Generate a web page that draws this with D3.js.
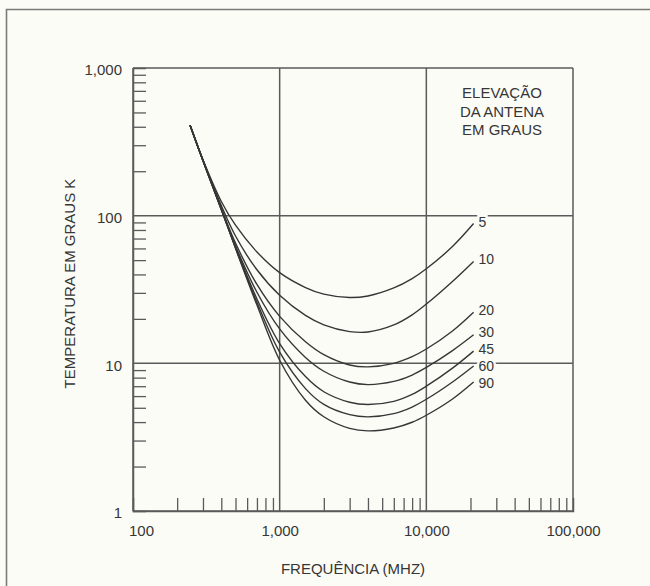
<!DOCTYPE html>
<html><head><meta charset="utf-8">
<script src="https://cdn.jsdelivr.net/npm/d3@7"></script>
<style>
html,body{margin:0;padding:0;background:#fcfcf6;}
svg{display:block;font-family:"Liberation Sans",Arial,Helvetica,sans-serif;}
</style></head><body>
<svg id="c" width="650" height="586"></svg>
<script>
// ---- data ----
const frequencies = [245, 300, 400, 500, 700, 1000, 1500, 2000, 3000, 4000, 6000, 8000, 10000, 15000, 21000];
const elevations = ["5", "10", "20", "30", "45", "60", "90"];
const temp5  = [410, 239, 124.8, 86.2, 56.8, 41.1, 32.6, 29.4, 27.9, 28.6, 32.4, 37.5, 43.7, 61.5, 88.4];
const temp10 = [410, 237.5, 117.2, 72.8, 43.0, 28.9, 21.1, 18.2, 16.4, 16.3, 18.2, 21.3, 25.2, 35.7, 49.0];
const temp20 = [410, 236.1, 112.2, 65.3, 34.2, 20.8, 14.0, 11.45, 9.75, 9.47, 10.0, 11.1, 12.5, 16.5, 22.2];
const temp30 = [410, 235.4, 110.7, 62.4, 30.3, 17.1, 10.96, 8.84, 7.47, 7.18, 7.54, 8.33, 9.38, 12.15, 15.6];
const temp45 = [410, 236.1, 111.0, 61.5, 27.3, 13.6, 8.13, 6.42, 5.45, 5.26, 5.53, 6.16, 7.00, 9.24, 12.1];
const temp60 = [410, 235.7, 110.3, 60.4, 25.9, 11.9, 6.74, 5.27, 4.49, 4.34, 4.56, 5.06, 5.71, 7.45, 9.60];
const temp90 = [410, 236.1, 110.3, 60.1, 24.8, 10.5, 5.63, 4.35, 3.63, 3.49, 3.65, 3.99, 4.45, 5.71, 7.47];
const xTickValues = [100, 1000, 10000, 100000];
const xTickLabels = ["100", "1,000", "10,000", "100,000"];
const yTickValues = [1, 10, 100, 1000];
const yTickLabels = ["1", "10", "100", "1,000"];
const legendLines = ["ELEVAÇÃO", "DA ANTENA", "EM GRAUS"];
const xTitle = "FREQUÊNCIA (MHZ)";
const yTitle = "TEMPERATURA EM GRAUS K";

const series = [temp5, temp10, temp20, temp30, temp45, temp60, temp90];

// ---- layout ----
const W = 650, H = 586;
const L = 133, R = 573, T = 68, B = 511;
const ink = "#363636", grid = "#5a5a5a", bg = "#fcfcf6";
const FS = 15, LFS = 14;
// vertical nudges (px) of the curve-end labels so they do not collide
const labelNudge = [-2, -2, -2, -2.7, -2.3, 0, 0.9];

const svg = d3.select("#c");
svg.append("rect").attr("width", W).attr("height", H).attr("fill", bg);

// outer frame (top and left)
svg.append("path").attr("d", `M6.5,586 L6.5,9.5 L650,9.5`)
  .attr("fill", "none").attr("stroke", "#7a7a7a").attr("stroke-width", 1.6);

const x = d3.scaleLog().domain([100, 100000]).range([L, R]);
const y = d3.scaleLog().domain([1, 1000]).range([B, T]);

// minor tick values
const xMinor = [], yMinor = [];
[100, 1000, 10000].forEach(d => { for (let k = 2; k <= 9; k++) xMinor.push(d * k); });
[1, 10, 100].forEach(d => { for (let k = 2; k <= 9; k++) yMinor.push(d * k); });

// grid lines (decades)
const gG = svg.append("g");
gG.selectAll("line.h").data(yTickValues).join("line")
  .attr("x1", L).attr("x2", R).attr("y1", d => y(d)).attr("y2", d => y(d))
  .attr("stroke", grid).attr("stroke-width", 1.5);
gG.selectAll("line.v").data(xTickValues).join("line")
  .attr("y1", T).attr("y2", B).attr("x1", d => x(d)).attr("x2", d => x(d))
  .attr("stroke", grid).attr("stroke-width", 1.5);

// minor ticks via axes
const ax = svg.append("g").attr("transform", `translate(0,${B})`)
  .call(d3.axisBottom(x).tickValues(xMinor).tickSize(-13).tickFormat(""));
const ay = svg.append("g").attr("transform", `translate(${L},0)`)
  .call(d3.axisLeft(y).tickValues(yMinor).tickSize(-13).tickFormat(""));
[ax, ay].forEach(g => {
  g.select(".domain").attr("stroke", grid).attr("stroke-width", 1.5);
  g.selectAll(".tick line").attr("stroke", grid).attr("stroke-width", 1.3);
});

// tick labels via axes
const xl = svg.append("g").attr("transform", `translate(0,${B})`)
  .call(d3.axisBottom(x).tickValues(xTickValues).tickSize(0).tickPadding(14)
    .tickFormat((d, i) => xTickLabels[i]));
const yl = svg.append("g").attr("transform", `translate(${L},0)`)
  .call(d3.axisLeft(y).tickValues(yTickValues).tickSize(0).tickPadding(11)
    .tickFormat((d, i) => yTickLabels[i]));
[xl, yl].forEach(g => {
  g.select(".domain").remove();
  g.selectAll("text").attr("fill", ink).style("font-size", FS + "px")
    .style("font-family", '"Liberation Sans",Arial,sans-serif');
});
yl.selectAll("text").attr("dy", "0.45em");
xl.selectAll(".tick").filter(d => d === 100).select("text").attr("x", 8);

// curves
const line = d3.line()
  .x(d => x(d[0])).y(d => y(d[1]))
  .curve(d3.curveCatmullRom.alpha(0.5));
const gC = svg.append("g");
series.forEach(s => {
  gC.append("path")
    .attr("d", line(frequencies.map((f, i) => [f, s[i]])))
    .attr("fill", "none").attr("stroke", ink).attr("stroke-width", 1.4);
});

// curve labels
const lastF = frequencies[frequencies.length - 1];
series.forEach((s, i) => {
  svg.append("text")
    .attr("x", x(lastF) + 5).attr("y", y(s[s.length - 1]) + labelNudge[i])
    .attr("dy", "0.36em")
    .attr("fill", ink).style("font-size", LFS + "px")
    .attr("stroke", bg).attr("stroke-width", 5).attr("paint-order", "stroke")
    .text(elevations[i]);
});

// legend title
svg.append("text").attr("text-anchor", "middle").attr("fill", ink)
  .style("font-size", FS + "px")
  .selectAll("tspan").data(legendLines).join("tspan")
  .attr("x", 502).attr("y", (d, i) => 98 + i * 18.5).text(d => d);

// axis titles
svg.append("text").attr("x", (L + R) / 2).attr("y", 574).attr("text-anchor", "middle")
  .attr("fill", ink).style("font-size", FS + "px").text(xTitle);
svg.append("text").attr("transform", `translate(75,${(T + B) / 2 - 6}) rotate(-90)`)
  .attr("text-anchor", "middle").attr("fill", ink).style("font-size", FS + "px").text(yTitle);
</script>
</body></html>
